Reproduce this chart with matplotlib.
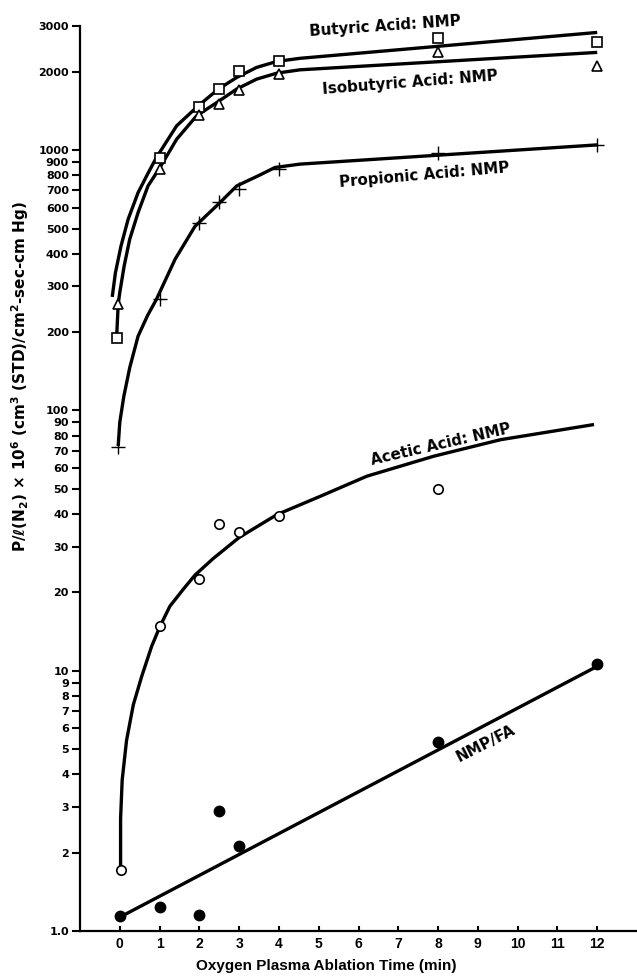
import matplotlib
matplotlib.use('Agg')
import matplotlib.pyplot as plt

plt.rcParams['font.family'] = ['Liberation Sans', 'DejaVu Sans']
plt.rcParams['font.weight'] = 'bold'
plt.rcParams['axes.labelweight'] = 'bold'
plt.rcParams['mathtext.fontset'] = 'custom'
plt.rcParams['mathtext.rm'] = 'DejaVu Sans:bold'
plt.rcParams['mathtext.it'] = 'DejaVu Sans:italic:bold'
plt.rcParams['mathtext.bf'] = 'DejaVu Sans:bold'

# measured points
t_but = [-0.07, 1, 2, 2.5, 3, 4, 8, 12]
but = [190, 937, 1468, 1717, 2018, 2198, 2690, 2610]
t_iso = [-0.04, 1, 2, 2.5, 3, 4, 8, 12]
iso = [256, 850, 1364, 1500, 1707, 1965, 2375, 2110]
t_pro = [-0.04, 1, 2, 2.5, 3, 4, 8, 12]
pro = [72.5, 268, 524, 633, 708, 850, 973, 1045]
t_ace = [0.02, 1, 2, 2.5, 3, 4, 8]
ace = [1.72, 14.9, 22.6, 36.5, 34.2, 39.3, 49.7]
t_fa = [0, 1, 2, 2.5, 3, 8, 12]
fa = [1.14, 1.24, 1.15, 2.9, 2.12, 5.3, 10.6]

# hand drawn curves
t_but_c = [-0.19, -0.11, 0.03, 0.21, 0.46, 0.7, 0.92, 1.43, 1.97, 2.48, 2.94, 3.44, 3.95, 4.53, 12]
but_c = [273, 338, 428, 543, 687, 810, 937, 1241, 1480, 1718, 1903, 2080, 2193, 2254, 2834]
t_iso_c = [-0.08, -0.04, 0.0, 0.11, 0.25, 0.46, 0.71, 1.01, 1.43, 1.93, 2.44, 2.94, 3.44, 3.95, 4.53, 12]
iso_c = [190, 256, 284, 359, 455, 576, 729, 858, 1102, 1355, 1525, 1718, 1875, 1977, 2036, 2375]
t_pro_c = [-0.04, 0.0, 0.1, 0.25, 0.46, 0.7, 0.92, 1.39, 1.89, 2.5, 2.94, 3.5, 3.9, 4.53, 12]
pro_c = [73, 90, 113, 146, 193, 232, 267, 381, 510, 625, 729, 800, 858, 884, 1048]
t_ace_c = [0.02, 0.02, 0.06, 0.17, 0.34, 0.55, 0.8, 1.01, 1.26, 1.6, 1.89, 2.35, 3.0, 3.95, 5.04, 6.21, 7.89, 9.57, 11.92]
ace_c = [1.72, 2.7, 3.8, 5.4, 7.4, 9.5, 12.4, 14.8, 17.7, 20.6, 23.3, 27.0, 32.5, 39.8, 46.8, 55.9, 66.7, 77.2, 88.3]
t_fa_c = [0, 12]
fa_c = [1.13, 10.4]

xticks = list(range(0, 13))
yticks = [1, 2, 3, 4, 5, 6, 7, 8, 9, 10, 20, 30, 40, 50, 60, 70, 80, 90, 100,
          200, 300, 400, 500, 600, 700, 800, 900, 1000, 2000, 3000]
ylabels = ['1.0'] + [str(v) for v in yticks[1:]]

fig = plt.figure(figsize=(6.37, 9.76), dpi=100)
ax = fig.add_axes([80/637, 45/976, 557/637, 905/976])

lw = 2.4
for t, v in [(t_but_c, but_c), (t_iso_c, iso_c), (t_pro_c, pro_c),
             (t_ace_c, ace_c), (t_fa_c, fa_c)]:
    ax.plot(t, v, color='black', lw=lw, solid_capstyle='butt', solid_joinstyle='round', zorder=2)

ax.plot(t_but, but, ls='none', marker='s', ms=6.8, mfc='white', mec='black', mew=1.2, zorder=3)
ax.plot(t_iso, iso, ls='none', marker='^', ms=7, mfc='white', mec='black', mew=1.2, zorder=3)
ax.plot(t_pro, pro, ls='none', marker='+', ms=10, mec='black', mew=1.0, zorder=3)
ax.plot(t_ace, ace, ls='none', marker='o', ms=6.8, mfc='white', mec='black', mew=1.2, zorder=3)
ax.plot(t_fa, fa, ls='none', marker='o', ms=7.5, mfc='black', mec='black', zorder=3)

ax.set_yscale('log')
ax.set_xlim(-1.0, 13.0)
ax.set_ylim(1, 3000)
ax.set_xticks(xticks)
ax.set_yticks(yticks, ylabels)
ax.minorticks_off()
ax.tick_params(axis='y', direction='out', length=6, width=1.5, pad=2, labelsize=8)
ax.tick_params(axis='x', direction='in', length=3.5, width=1.5, pad=4, labelsize=10)
for lab in ax.get_yticklabels():
    lab.set_family('DejaVu Sans')
for s in ['top', 'right']:
    ax.spines[s].set_visible(False)
for s in ['left', 'bottom']:
    ax.spines[s].set_linewidth(1.6)

ax.set_xlabel('Oxygen Plasma Ablation Time (min)', fontsize=11)
ax.xaxis.set_label_coords(0.4417, -0.031)
ax.set_ylabel('P/ℓ(N$_2$) × 10$^6$ (cm$^3$ (STD)/cm$^2$-sec-cm Hg)', fontsize=11,
              family=['DejaVu Sans'])
ax.yaxis.label.set_va('center')
ax.yaxis.set_label_coords(-0.108, 0.613)

kw = dict(fontsize=10.8, ha='center', va='center', family=['DejaVu Sans'])
ax.text(6.68, 3006, 'Butyric Acid: NMP', rotation=4, **kw)
ax.text(7.30, 1820, 'Isobutyric Acid: NMP', rotation=4.5, **kw)
ax.text(7.66, 804, 'Propionic Acid: NMP', rotation=5, **kw)
ax.text(8.06, 74, 'Acetic Acid: NMP', rotation=13, **kw)
ax.text(9.19, 5.24, 'NMP/FA', rotation=27, **kw)

fig.savefig('out.png', dpi=100)
